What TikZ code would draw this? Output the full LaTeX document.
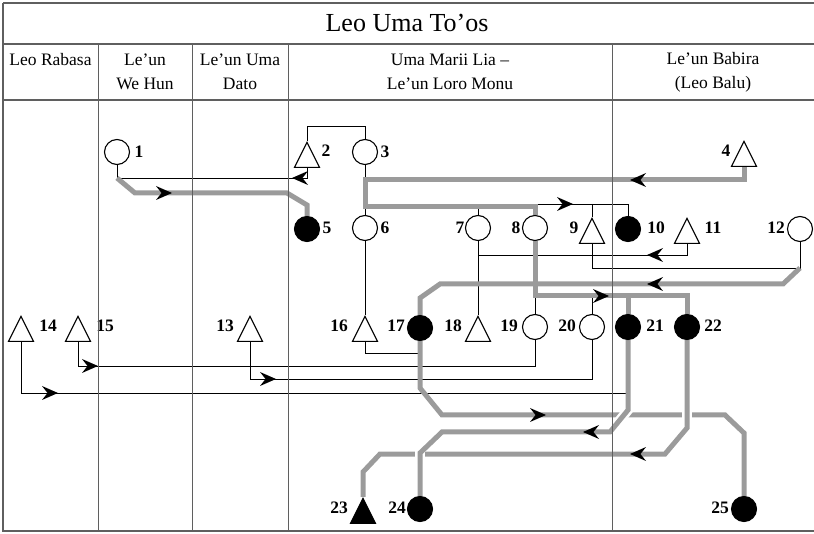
\documentclass[tikz,border=0pt]{standalone}
\usepackage{fontspec}
\setmainfont{Liberation Serif}
\usetikzlibrary{shapes.geometric}

\definecolor{gcol}{RGB}{155,155,155}
\definecolor{rulecol}{RGB}{95,95,95}

\pgfdeclarelayer{wires}
\pgfsetlayers{wires,main}

\tikzset{
  person/.style={circle, draw=black, line width=1.1pt, fill=white,
    minimum size=25pt, inner sep=0pt},
  dead/.style={person, fill=black},
  tri/.style={isosceles triangle, isosceles triangle stretches,
    shape border rotate=90, draw=black, line width=1.1pt, fill=white,
    minimum width=25pt, minimum height=25pt, inner sep=0pt, anchor=apex},
  deadtri/.style={tri, fill=black},
  num/.style={font=\fontsize{17.5}{17.5}\selectfont\bfseries, inner sep=0pt},
  head/.style={font=\fontsize{17.5}{24}\selectfont, align=center, inner sep=0pt},
  title/.style={font=\fontsize{26}{26}\selectfont, inner sep=0pt},
  thinline/.style={draw=black, line width=0.9pt},
  gline/.style={draw=gcol, line width=5pt},
  halo/.style={draw=white, line width=10pt},
  frame/.style={draw=rulecol, line width=1.4pt},
  colline/.style={draw=rulecol, line width=0.8pt},
  ahead/.pic={\fill[black] (0,0) -- (-16,7) -- (-10.5,0) -- (-16,-7) -- cycle;},
}

\begin{document}
\begin{tikzpicture}[x=1pt, y=-1pt]
\useasboundingbox (0,0) rectangle (814,534);

% table frame
\draw[frame] (3,3) -- (814,3);
\draw[frame] (814,531) -- (3,531) -- (3,3);
\draw[frame] (3,44) -- (814,44);
\draw[frame] (3,100) -- (814,100);

% headings
\node[title] (title) at (407,23) {Leo Uma To’os};
\node[head] (h1) at (50.5,60) {Leo Rabasa};
\node[head] (h2) at (145,72) {Le’un\\We Hun};
\node[head] (h3) at (240,72) {Le’un Uma\\Dato};
\node[head] (h4) at (450,72) {Uma Marii Lia –\\Le’un Loro Monu};
\node[head] (h5) at (713,72) {Le’un Babira\\(Leo Balu)};

% people: first row
\node[person] (n1) at (117,152) {};
\node[tri] (n2) at (307,141) {};
\node[person] (n3) at (365,152) {};
\node[tri] (n4) at (744,140) {};
% second row
\node[dead] (n5) at (307,229) {};
\node[person] (n6) at (365,228) {};
\node[person] (n7) at (478,228) {};
\node[person] (n8) at (535,228) {};
\node[tri] (n9) at (592,217) {};
\node[dead] (n10) at (628,229) {};
\node[tri] (n11) at (687,217) {};
\node[person] (n12) at (800,229) {};
% third row
\node[tri] (n13) at (250,315) {};
\node[tri] (n14) at (21,315) {};
\node[tri] (n15) at (78,315) {};
\node[tri] (n16) at (365,315) {};
\node[dead] (n17) at (420,328) {};
\node[tri] (n18) at (478,315) {};
\node[person] (n19) at (535,327) {};
\node[person] (n20) at (592,327) {};
\node[dead] (n21) at (628,327) {};
\node[dead] (n22) at (687,327) {};
% fourth row
\node[deadtri] (n23) at (363,497) {};
\node[dead] (n24) at (420,509) {};
\node[dead] (n25) at (744,509) {};

% numbers
\node[num] (l1) at (139,152) {1};
\node[num] (l2) at (326,151) {2};
\node[num] (l3) at (385,152) {3};
\node[num] (l4) at (726,151) {4};
\node[num] (l5) at (327,228) {5};
\node[num] (l6) at (385,228) {6};
\node[num] (l7) at (460,228) {7};
\node[num] (l8) at (516,228) {8};
\node[num] (l9) at (574,228) {9};
\node[num] (l10) at (656,228) {10};
\node[num] (l11) at (713,228) {11};
\node[num] (l12) at (776,228) {12};
\node[num] (l13) at (225,326) {13};
\node[num] (l14) at (48,326) {14};
\node[num] (l15) at (105,326) {15};
\node[num] (l16) at (339,326) {16};
\node[num] (l17) at (396,326) {17};
\node[num] (l18) at (453,326) {18};
\node[num] (l19) at (509,326) {19};
\node[num] (l20) at (567,326) {20};
\node[num] (l21) at (655,326) {21};
\node[num] (l22) at (713,326) {22};
\node[num] (l23) at (339,508) {23};
\node[num] (l24) at (397,508) {24};
\node[num] (l25) at (720,508) {25};

% column rules
\draw[colline] (98,44) -- (98,531);
\draw[colline] (192,44) -- (192,531);
\draw[colline] (288,44) -- (288,531);
\draw[colline] (612,44) -- (612,531);

\begin{pgfonlayer}{wires}
  % thin connectors
  \draw[thinline] (n2.south) -- (307,178) -- (117,178) -- (n1.south);
  \draw[thinline] (n3.north) -- (365,126) -- (307,126) -- (n2.north);
  \draw[thinline] (n3.south) -- (n6.north);
  \draw[thinline] (n6.south) -- (n16.north);
  \draw[thinline] (n16.south) -- (365,353) -- (420,353);
  \draw[thinline] (n7.north) -- (478,207);
  \draw[thinline] (n7.south) -- (n18.north);
  \draw[thinline] (n11.south) -- (687,255) -- (478,255);
  \draw[thinline] (n8.north) -- (535,204) -- (628,204) -- (n10.north);
  \draw[thinline] (592,204) -- (n9.north);
  \coordinate (j12) at (800,268);
  \draw[thinline] (n12.south) -- (j12) -- (592,268) -- (n9.south);
  \draw[thinline] (n15.south) -- (78,366) -- (535,366) -- (n19.south);
  \draw[thinline] (n13.south) -- (250,379) -- (592,379) -- (n20.south);
  \draw[thinline] (n14.south) -- (21,393) -- (628,393);
  \draw[thinline] (n19.north) -- (535,296);
  \draw[thinline] (n20.north) -- (592,296);

  % grey routes
  \draw[gline] (117,178) -- (135,193) -- (287,193) -- (307,205) -- (n5.north);
  \draw[gline] (n4.south) -- (744,180) -- (365,180) -- (365,207) -- (535,207) -- (n8.north);
  \draw[gline] (n8.south) -- (535,296) -- (687,296) -- (n22.north);
  \draw[gline] (628,296) -- (n21.north);
  \draw[gline] (j12) -- (783,284) -- (440,284) -- (420,298) -- (n17.north);
  \draw[gline] (n17.south) -- (420,388) -- (442,415) -- (725,415) -- (744,433) -- (n25.north);
  \draw[halo] (687,405) -- (687,425);
  \draw[gline] (n22.south) -- (687,428) -- (665,454) -- (380,454) -- (363,472) -- (n23.north);
  \draw[halo] (628,400) -- (628,410) -- (612,430);
  \draw[halo] (420,444) -- (420,464);
  \draw[gline] (n21.south) -- (628,410) -- (610,432) -- (442,432) -- (420,453) -- (n24.north);

  % arrowheads
  \pic[rotate=180] at (292,178) {ahead};
  \pic at (172,193) {ahead};
  \pic[rotate=180] at (630,180) {ahead};
  \pic at (573,204) {ahead};
  \pic[rotate=180] at (647,255) {ahead};
  \pic[rotate=180] at (647,284) {ahead};
  \pic at (609,296) {ahead};
  \pic at (98,366) {ahead};
  \pic at (276,379) {ahead};
  \pic at (58,393) {ahead};
  \pic at (546,415) {ahead};
  \pic[rotate=180] at (583,432) {ahead};
  \pic[rotate=180] at (630,454) {ahead};
\end{pgfonlayer}
\end{tikzpicture}
\end{document}
